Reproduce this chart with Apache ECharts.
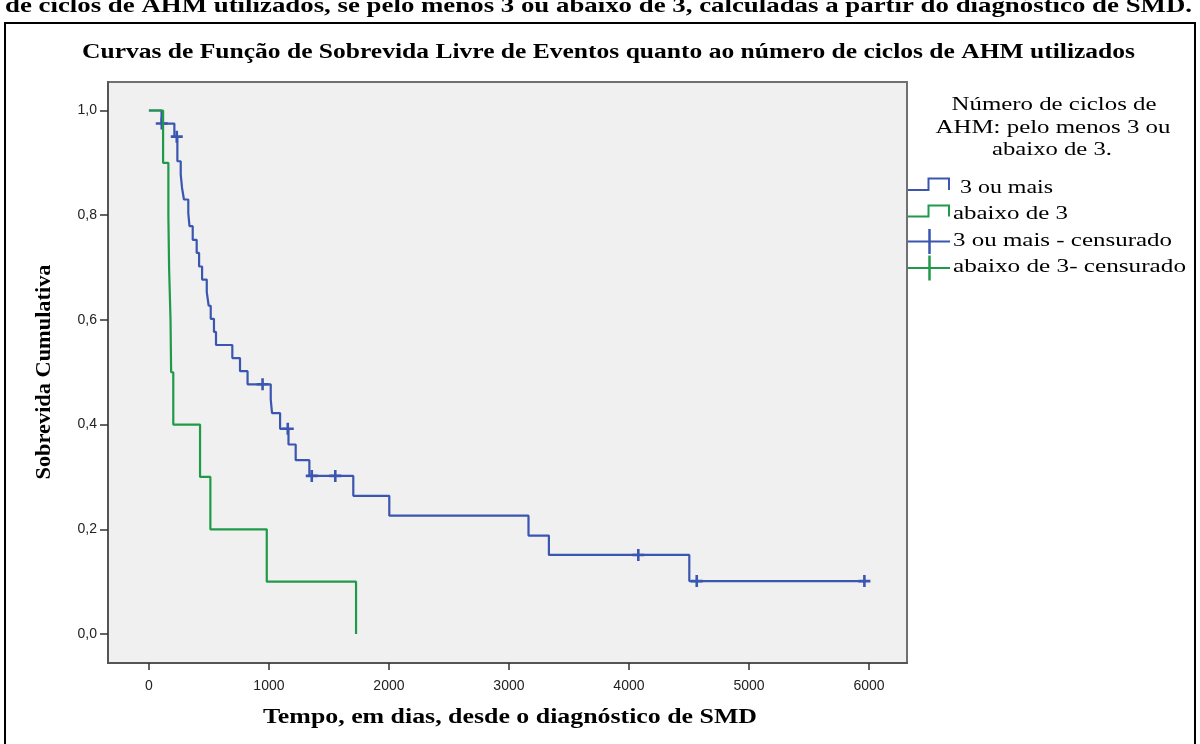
<!DOCTYPE html>
<html><head><meta charset="utf-8">
<script src="https://cdn.jsdelivr.net/npm/echarts@6/dist/echarts.min.js"></script>
<style>html,body{margin:0;padding:0;background:#fff}#c{width:1200px;height:744px}</style>
</head><body><div id="c"></div>
<script>
// ---- data ----
const xTicks = [0, 1000, 2000, 3000, 4000, 5000, 6000];
const yTicks = [0, 0.2, 0.4, 0.6, 0.8, 1.0];
const blueEventTimes = [105,212,237,265,276,292,328,338,365,398,418,443,482,498,515,542,559,695,759,822,1015,1026,1093,1163,1223,1337,1703,2003,3163,3333,4503];
const blueSurvival = [0.975,0.950,0.903,0.878,0.852,0.830,0.804,0.779,0.753,0.728,0.702,0.677,0.653,0.627,0.602,0.577,0.552,0.527,0.502,0.477,0.448,0.422,0.392,0.362,0.332,0.302,0.264,0.226,0.188,0.151,0.101];
const blueCensorTimes = [107,232,947,1157,1357,1553,4078,4565,5962];
const blueCensorSurvival = [0.975,0.950,0.477,0.392,0.302,0.302,0.151,0.101,0.101];
const greenEventTimes = [118,162,168,180,185,203,426,512,982,1726];
const greenSurvival = [0.9,0.8,0.7,0.6,0.5,0.4,0.3,0.2,0.1,0.0];
const greenCensorTimes = [];
const greenCensorSurvival = [];

const BLUE = '#3a56b0', GREEN = '#1f9a48';
const SERIF = '"Liberation Serif","Times New Roman",serif';
const SANS = '"Liberation Sans", Arial, sans-serif';

function stepPoints(times, surv, endTime) {
  const pts = [[0, 1]];
  let prev = 1;
  for (let i = 0; i < times.length; i++) {
    pts.push([times[i], prev]);
    pts.push([times[i], surv[i]]);
    prev = surv[i];
  }
  if (endTime > times[times.length - 1]) pts.push([endTime, prev]);
  return pts;
}
const zipPts = (a, b) => a.map((v, i) => [v, b[i]]);

const blueEnd = Math.max(blueEventTimes[blueEventTimes.length-1], blueCensorTimes[blueCensorTimes.length-1]);
const greenEnd = greenEventTimes[greenEventTimes.length-1];

const plusPath = 'path://M-1.3,-6H1.3V-1.3H6V1.3H1.3V6H-1.3V1.3H-6V-1.3H-1.3Z';

// text fitting helper (stretch text horizontally to the reference width)
const mctx = document.createElement('canvas').getContext('2d');
function fitText(text, font, width, x, y, align, extra) {
  mctx.font = font;
  const w = mctx.measureText(text).width;
  return Object.assign({
    type: 'text', x: x, y: y, scaleX: width / w,
    style: { text: text, font: font, fill: '#000', align: align || 'center', verticalAlign: 'middle' },
    silent: true
  }, extra || {});
}

const chart = echarts.init(document.getElementById('c'), null, { renderer: 'canvas' });

const legendTitleFont = '18px ' + SERIF;
const legendFont = '18px ' + SERIF;

const graphics = [
  { type: 'rect', shape: { x: 5, y: 23, width: 1190, height: 740 }, style: { fill: null, stroke: '#000', lineWidth: 2 }, silent: true },
  fitText('de ciclos de AHM utilizados, se pelo menos 3 ou abaixo de 3, calculadas a partir do diagnóstico de SMD.', 'bold 22px ' + SERIF, 1187, 5, 6, 'left'),
  fitText('Curvas de Função de Sobrevida Livre de Eventos quanto ao número de ciclos de AHM utilizados', 'bold 20px ' + SERIF, 1053, 608.5, 53),
  fitText('Tempo, em dias, desde o diagnóstico de SMD', 'bold 20px ' + SERIF, 494, 510, 718),
  fitText('Sobrevida Cumulativa', 'bold 20px ' + SERIF, 215, 45, 372, 'center', { rotation: Math.PI / 2 }),
  fitText('Número de ciclos de', legendTitleFont, 205, 1054, 105),
  fitText('AHM: pelo menos 3 ou', legendTitleFont, 235, 1053, 128),
  fitText('abaixo de 3.', legendTitleFont, 120, 1052, 150),
  // legend icons
  { type: 'polyline', shape: { points: [[908,190],[928.5,190],[928.5,178.5],[949,178.5],[949,190]] }, style: { stroke: BLUE, lineWidth: 2, fill: null }, silent: true },
  { type: 'polyline', shape: { points: [[908,216.5],[928.5,216.5],[928.5,205.5],[949,205.5],[949,216.5]] }, style: { stroke: GREEN, lineWidth: 2, fill: null }, silent: true },
  { type: 'line', shape: { x1: 908, y1: 241.5, x2: 950, y2: 241.5 }, style: { stroke: BLUE, lineWidth: 2 }, silent: true },
  { type: 'line', shape: { x1: 929.5, y1: 229, x2: 929.5, y2: 254 }, style: { stroke: BLUE, lineWidth: 2.5 }, silent: true },
  { type: 'line', shape: { x1: 908, y1: 268, x2: 950, y2: 268 }, style: { stroke: GREEN, lineWidth: 2 }, silent: true },
  { type: 'line', shape: { x1: 929.5, y1: 255.5, x2: 929.5, y2: 280.5 }, style: { stroke: GREEN, lineWidth: 2.5 }, silent: true },
  fitText('3 ou mais', legendFont, 93, 960, 188, 'left'),
  fitText('abaixo de 3', legendFont, 115, 953, 214.5, 'left'),
  fitText('3 ou mais - censurado', legendFont, 219, 953, 241, 'left'),
  fitText('abaixo de 3- censurado', legendFont, 233, 953, 267.5, 'left')
];

chart.setOption({
  animation: false,
  backgroundColor: '#ffffff',
  grid: { left: 108, right: 293, top: 82, bottom: 81, show: true, backgroundColor: '#f0f0f0', borderColor: '#707070', borderWidth: 2, containLabel: false },
  xAxis: {
    type: 'value', min: -341, max: 6317,
    splitLine: { show: false },
    axisLine: { show: true, onZero: false, lineStyle: { color: '#555', width: 2 } },
    axisTick: { show: true, customValues: xTicks, length: 7, lineStyle: { color: '#333', width: 1.5 } },
    axisLabel: { customValues: xTicks, margin: 16, color: '#222', fontSize: 14, fontFamily: SANS,
      formatter: v => String(v) }
  },
  yAxis: {
    type: 'value', min: -0.0554, max: 1.0544,
    splitLine: { show: false },
    axisLine: { show: true, onZero: false, lineStyle: { color: '#555', width: 2 } },
    axisTick: { show: true, customValues: yTicks, length: 8, lineStyle: { color: '#333', width: 1.5 } },
    axisLabel: { customValues: yTicks, margin: 11, color: '#222', fontSize: 14, fontFamily: SANS,
      formatter: v => v.toFixed(1).replace('.', ',') }
  },
  graphic: graphics,
  series: [
    { name: '3 ou mais', type: 'line', data: stepPoints(blueEventTimes, blueSurvival, blueEnd), showSymbol: false, symbol: 'none',
      lineStyle: { color: BLUE, width: 2.2 }, itemStyle: { color: BLUE }, z: 2 },
    { name: '3 ou mais - censurado', type: 'scatter', data: zipPts(blueCensorTimes, blueCensorSurvival), symbol: plusPath, symbolSize: 12,
      itemStyle: { color: BLUE, opacity: 1 }, z: 3 },
    { name: 'abaixo de 3', type: 'line', data: stepPoints(greenEventTimes, greenSurvival, greenEnd), showSymbol: false, symbol: 'none',
      lineStyle: { color: GREEN, width: 2.2 }, itemStyle: { color: GREEN }, z: 4 },
    { name: 'abaixo de 3- censurado', type: 'scatter', data: zipPts(greenCensorTimes, greenCensorSurvival), symbol: plusPath, symbolSize: 12,
      itemStyle: { color: GREEN, opacity: 1 }, z: 5 }
  ]
});
</script></body></html>
